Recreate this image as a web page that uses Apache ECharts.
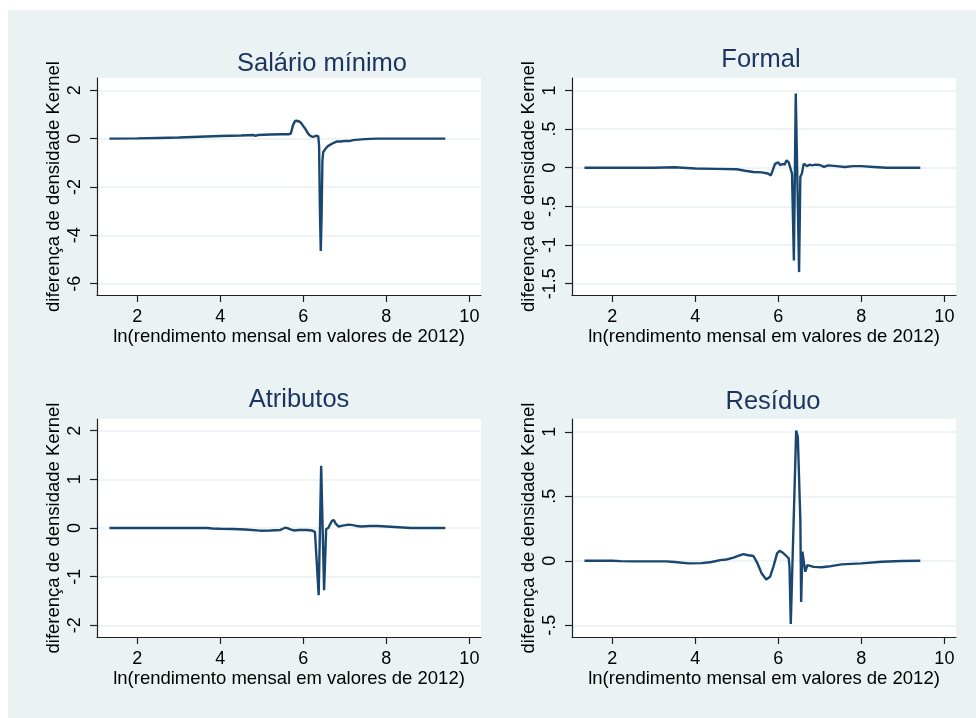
<!DOCTYPE html>
<html>
<head>
<meta charset="utf-8">
<script src="https://cdn.jsdelivr.net/npm/echarts@6/dist/echarts.min.js"></script>
<style>
html,body{margin:0;padding:0;background:#fff;}
#c{width:976px;height:718px;}
</style>
</head>
<body>
<div id="c"></div>
<script>
// ---- data ----
const titles = ['Salário mínimo', 'Formal', 'Atributos', 'Resíduo'];
const xTicks = [2, 4, 6, 8, 10];

const xSal = [1.33, 2.0, 2.5, 3.0, 3.5, 4.0, 4.5, 4.8, 4.85, 4.9, 5.2, 5.5, 5.65, 5.70, 5.75, 5.80, 5.85, 5.90, 5.95, 6.00, 6.05, 6.10, 6.15, 6.20, 6.25, 6.30, 6.34, 6.36, 6.38, 6.40, 6.42, 6.44, 6.46, 6.48, 6.55, 6.60, 6.70, 6.80, 6.90, 7.00, 7.10, 7.20, 7.40, 7.60, 7.80, 8.0, 8.5, 9.0, 9.42];
const ySal = [0, 0.01, 0.03, 0.05, 0.08, 0.11, 0.13, 0.15, 0.12, 0.15, 0.17, 0.18, 0.18, 0.22, 0.55, 0.73, 0.74, 0.71, 0.64, 0.52, 0.40, 0.25, 0.14, 0.09, 0.08, 0.12, 0.16, 0.10, -0.30, -3.0, -4.65, -3.2, -0.9, -0.55, -0.38, -0.30, -0.2, -0.12, -0.12, -0.09, -0.1, -0.06, -0.03, -0.01, 0.0, 0.0, 0.0, 0.0, 0.0];
const yTicksSal = [-6, -4, -2, 0, 2];

const xFor = [1.33, 2, 2.5, 3, 3.5, 4, 4.5, 5.0, 5.2, 5.4, 5.6, 5.75, 5.82, 5.86, 5.92, 6.0, 6.05, 6.1, 6.15, 6.2, 6.25, 6.29, 6.33, 6.375, 6.42, 6.50, 6.53, 6.57, 6.61, 6.65, 6.70, 6.75, 6.8, 6.9, 7.0, 7.1, 7.2, 7.4, 7.6, 7.8, 8.0, 8.3, 8.6, 9.0, 9.42];
const yFor = [0, 0, 0, 0, 0.005, -0.01, -0.015, -0.02, -0.04, -0.055, -0.06, -0.075, -0.1, -0.04, 0.05, 0.07, 0.03, 0.05, 0.04, 0.095, 0.07, 0.05, -0.08, -1.2, 0.96, -1.35, -0.12, -0.07, 0.05, 0.065, 0.02, 0.04, 0.03, 0.04, 0.035, 0.01, 0.03, 0.02, 0.01, 0.02, 0.02, 0.01, 0.0, 0.0, 0.0];
const yTicksFor = [-1.5, -1, -0.5, 0, 0.5, 1];

const xAtr = [1.33, 2, 3, 3.7, 3.8, 4.0, 4.3, 4.6, 4.96, 5.2, 5.45, 5.52, 5.57, 5.63, 5.69, 5.77, 5.9, 6.09, 6.2, 6.28, 6.37, 6.43, 6.50, 6.55, 6.6, 6.63, 6.69, 6.74, 6.77, 6.85, 6.95, 7.09, 7.2, 7.29, 7.4, 7.6, 7.8, 8.0, 8.2, 8.4, 8.6, 9.0, 9.42];
const yAtr = [0, 0, 0, 0, -0.01, -0.015, -0.02, -0.03, -0.055, -0.05, -0.04, -0.01, 0.01, -0.01, -0.03, -0.05, -0.04, -0.04, -0.05, -0.08, -1.38, 1.28, -1.28, -0.02, 0.0, 0.01, 0.15, 0.16, 0.1, 0.03, 0.05, 0.07, 0.06, 0.04, 0.03, 0.04, 0.04, 0.03, 0.02, 0.01, 0.0, 0.0, 0.0];
const yTicksAtr = [-2, -1, 0, 1, 2];

const xRes = [1.33, 2.0, 2.2, 2.5, 3.0, 3.3, 3.5, 3.83, 4.15, 4.35, 4.5, 4.6, 4.75, 4.92, 5.05, 5.16, 5.25, 5.40, 5.48, 5.60, 5.71, 5.80, 5.88, 5.97, 6.03, 6.12, 6.20, 6.25, 6.27, 6.30, 6.43, 6.45, 6.47, 6.53, 6.55, 6.58, 6.62, 6.65, 6.70, 6.85, 7.04, 7.2, 7.52, 8.0, 8.49, 8.97, 9.42];
const yRes = [0, 0, -0.003, -0.005, -0.005, -0.005, -0.01, -0.02, -0.018, -0.012, -0.002, 0.005, 0.01, 0.024, 0.04, 0.052, 0.045, 0.037, -0.008, -0.098, -0.145, -0.124, -0.047, 0.057, 0.078, 0.06, 0.035, 0.019, -0.047, -0.49, 1.01, 1.0, 0.96, 0.32, -0.32, 0.07, -0.02, -0.085, -0.034, -0.047, -0.05, -0.045, -0.028, -0.02, -0.008, -0.002, 0];
const yTicksRes = [-0.5, 0, 0.5, 1];

// ---- layout / style ----
const panels = [
  {xs: xSal, ys: ySal, ticks: yTicksSal, step: 2,   ymin: -6.47, ymax: 2.51, grid: {left: 97, top: 78, width: 384, height: 217}, title: {x: 317, y: 46}},
  {xs: xFor, ys: yFor, ticks: yTicksFor, step: 0.5, ymin: -1.646, ymax: 1.16, grid: {left: 572, top: 78, width: 384, height: 217}, title: {x: 756, y: 42}},
  {xs: xAtr, ys: yAtr, ticks: yTicksAtr, step: 1,   ymin: -2.24, ymax: 2.24, grid: {left: 97, top: 419, width: 384, height: 218}, title: {x: 294, y: 382}},
  {xs: xRes, ys: yRes, ticks: yTicksRes, step: 0.5, ymin: -0.591, ymax: 1.099, grid: {left: 572, top: 419, width: 384, height: 218}, title: {x: 768, y: 384}}
];

const FONT = "'Liberation Sans', Arial, Helvetica, sans-serif";
const BG = '#eaf2f3';
const AXIS = '#1f1f1f';

function fmt(v) {
  let s = String(Math.round(v * 1000) / 1000);
  return s.replace(/^(-?)0\./, '$1.');
}

const chart = echarts.init(document.getElementById('c'), null, {renderer: 'canvas'});

const option = {
  animation: false,
  backgroundColor: '#ffffff',
  graphic: [{type: 'rect', z: -10, silent: true, shape: {x: 8, y: 10, width: 968, height: 708}, style: {fill: BG}}],
  title: panels.map((p, i) => ({
    text: titles[i], left: p.title.x, top: p.title.y, textAlign: 'center',
    textStyle: {fontFamily: FONT, fontSize: 25.5, fontWeight: 'normal', color: '#1c355e'}
  })),
  grid: panels.map(p => Object.assign({show: true, backgroundColor: '#ffffff', borderWidth: 0, containLabel: false, outerBoundsMode: 'none'}, p.grid)),
  xAxis: panels.map((p, i) => ({
    type: 'value', gridIndex: i, min: 1.03, max: 10.28,
    name: 'ln(rendimento mensal em valores de 2012)', nameLocation: 'middle', nameGap: 32,
    nameTextStyle: {fontFamily: FONT, fontSize: 18.5, color: '#000'},
    axisLine: {show: true, onZero: false, lineStyle: {color: AXIS, width: 1.2}},
    axisTick: {show: true, length: 7, customValues: xTicks, lineStyle: {color: AXIS, width: 1.2}},
    axisLabel: {show: true, margin: 13, customValues: xTicks, fontFamily: FONT, fontSize: 18, color: '#000', formatter: fmt},
    splitLine: {show: false}
  })),
  yAxis: panels.map((p, i) => ({
    type: 'value', gridIndex: i, min: p.ymin, max: p.ymax,
    minInterval: p.step, maxInterval: p.step,
    name: 'diferença de densidade Kernel', nameLocation: 'middle', nameGap: 34, nameRotate: 90,
    nameTextStyle: {fontFamily: FONT, fontSize: 18.5, color: '#000'},
    axisLine: {show: true, onZero: false, lineStyle: {color: AXIS, width: 1.2}},
    axisTick: {show: true, length: 7, customValues: p.ticks, lineStyle: {color: AXIS, width: 1.2}},
    axisLabel: {show: true, margin: 13, rotate: 90, customValues: p.ticks, fontFamily: FONT, fontSize: 18, color: '#000', formatter: fmt},
    splitLine: {show: true, lineStyle: {color: BG, width: 1.5}}
  })),
  series: panels.map((p, i) => ({
    type: 'line', xAxisIndex: i, yAxisIndex: i,
    data: p.xs.map((x, k) => [x, p.ys[k]]),
    showSymbol: false, symbol: 'none', smooth: false,
    lineStyle: {color: '#1a476f', width: 2.4},
    clip: true
  }))
};
chart.setOption(option);
</script>
</body>
</html>
